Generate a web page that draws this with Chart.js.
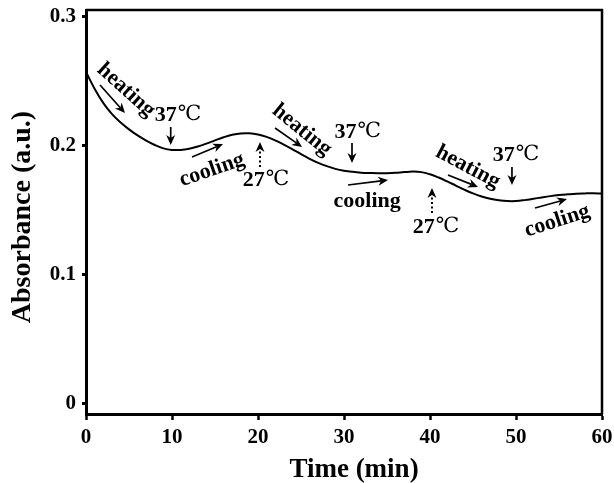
<!DOCTYPE html>
<html>
<head>
<meta charset="utf-8">
<script src="https://cdn.jsdelivr.net/npm/chart.js@4"></script>
<style>
  html, body { margin: 0; padding: 0; background: #fff; }
  #wrap { width: 614px; height: 483px; }
</style>
</head>
<body>
<div id="wrap"><canvas id="c" width="614" height="483"></canvas></div>
<script>
// ---- data ----
const timeMin = [0,1,2,3,4,5,6,7,8,9,10,11,12,13,14,15,16,17,18,19,20,21,22,23,24,25,26,27,28,29,30,31,32,33,34,35,36,37,38,39,40,41,42,43,44,45,46,47,48,49,50,51,52,53,54,55,56,57,58,59,60];
const absorbance = [0.257,0.244,0.233,0.2245,0.218,0.2125,0.2078,0.2038,0.2004,0.1978,0.1966,0.1966,0.1975,0.1992,0.2015,0.204,0.2064,0.2083,0.2094,0.2095,0.2086,0.2067,0.204,0.2007,0.1971,0.1933,0.1897,0.1866,0.184,0.1819,0.1805,0.1796,0.179,0.1787,0.1785,0.1786,0.1789,0.1794,0.1798,0.1794,0.1777,0.1752,0.1722,0.169,0.1658,0.1629,0.1605,0.1587,0.1576,0.157,0.157,0.1577,0.1587,0.1598,0.1608,0.1616,0.1622,0.1627,0.1629,0.163,0.1628];
const xTickValues = [0,10,20,30,40,50,60];
const yTickValues = [0,0.1,0.2,0.3];
const yTickLabels = ['0','0.1','0.2','0.3'];
const xTitle = 'Time (min)';
const yTitle = 'Absorbance (a.u.)';

// annotation texts anchored in data coordinates (time, absorbance), rotation in degrees
const labelTexts = [
  {text:'heating', t:4.65, v:0.243, rot:42},
  {text:'37', deg:true, t:10.7, v:0.2237, rot:0},
  {text:'cooling', t:14.65, v:0.181, rot:-19},
  {text:'27', deg:true, t:20.93, v:0.1733, rot:0},
  {text:'heating', t:25.1, v:0.212, rot:39},
  {text:'37', deg:true, t:31.6, v:0.2105, rot:0},
  {text:'cooling', t:32.7, v:0.157, rot:0},
  {text:'27', deg:true, t:40.7, v:0.1369, rot:0},
  {text:'heating', t:44.4, v:0.1833, rot:28},
  {text:'37', deg:true, t:50.0, v:0.1927, rot:0},
  {text:'cooling', t:54.8, v:0.1415, rot:-18}
];
// arrows in data coordinates: from (t1,v1) to (t2,v2)
const arrowDefs = [
  {t1:1.63, v1:0.2469, t2:4.53, v2:0.2252, dotted:false},
  {t1:9.85, v1:0.2144, t2:9.85, v2:0.2004, dotted:false},
  {t1:12.33, v1:0.1911, t2:15.93, v2:0.2011, dotted:false},
  {t1:20.23, v1:0.1834, t2:20.23, v2:0.2028, dotted:true},
  {t1:21.98, v1:0.2136, t2:25.12, v2:0.1989, dotted:false},
  {t1:30.93, v1:0.2020, t2:30.93, v2:0.1865, dotted:false},
  {t1:30.47, v1:0.1694, t2:35.12, v2:0.1733, dotted:false},
  {t1:40.23, v1:0.1477, t2:40.23, v2:0.1671, dotted:true},
  {t1:42.09, v1:0.1772, t2:45.58, v2:0.1679, dotted:false},
  {t1:49.53, v1:0.1834, t2:49.53, v2:0.1694, dotted:false},
  {t1:52.21, v1:0.1516, t2:55.93, v2:0.1585, dotted:false}
];

const SERIF = '"Liberation Serif", "Times New Roman", serif';

const framePlugin = {
  id: 'frame',
  afterDatasetsDraw(chart) {
    const {ctx, chartArea: a, scales: {x, y}} = chart;
    ctx.save();
    ctx.strokeStyle = '#000';
    ctx.lineWidth = 2.5;
    ctx.beginPath();
    ctx.moveTo(a.left, a.top);
    ctx.lineTo(a.right, a.top);
    ctx.lineTo(a.right, a.bottom);
    ctx.stroke();

    // arrows
    arrowDefs.forEach(d => {
      const x1 = x.getPixelForValue(d.t1), y1 = y.getPixelForValue(d.v1);
      const x2 = x.getPixelForValue(d.t2), y2 = y.getPixelForValue(d.v2);
      const ang = Math.atan2(y2 - y1, x2 - x1);
      const c = Math.cos(ang), s = Math.sin(ang);
      const hl = 10, hw = 4.5, notch = 3;
      const bx = x2 - hl * c, by = y2 - hl * s;
      const nx = bx + notch * c, ny = by + notch * s;
      ctx.beginPath();
      ctx.lineWidth = d.dotted ? 2 : 1.7;
      ctx.setLineDash(d.dotted ? [2, 2.5] : []);
      ctx.moveTo(x1, y1);
      ctx.lineTo(nx, ny);
      ctx.stroke();
      ctx.setLineDash([]);
      ctx.beginPath();
      ctx.moveTo(x2, y2);
      ctx.lineTo(bx + hw * s, by - hw * c);
      ctx.lineTo(nx, ny);
      ctx.lineTo(bx - hw * s, by + hw * c);
      ctx.closePath();
      ctx.fillStyle = '#000';
      ctx.fill();
    });

    // texts
    ctx.fillStyle = '#000';
    ctx.textBaseline = 'middle';
    labelTexts.forEach(l => {
      const px = x.getPixelForValue(l.t), py = y.getPixelForValue(l.v);
      ctx.save();
      ctx.translate(px, py);
      ctx.rotate(l.rot * Math.PI / 180);
      if (l.deg) {
        const f1 = 'bold 22px ' + SERIF;
        const f2 = 'normal 21px "DejaVu Serif", "Noto Sans CJK SC", serif';
        ctx.font = f1; const w1 = ctx.measureText(l.text).width;
        ctx.font = f2; const w2 = ctx.measureText('\u2103').width;
        const start = -(w1 + w2 + 1) / 2;
        ctx.textAlign = 'left';
        ctx.font = f1; ctx.fillText(l.text, start, 0);
        ctx.font = f2; ctx.fillText('\u2103', start + w1 + 1, 0);
      } else {
        ctx.font = 'bold 22px ' + SERIF;
        ctx.textAlign = 'center';
        ctx.fillText(l.text, 0, 0);
      }
      ctx.restore();
    });

    // axis titles
    ctx.font = 'bold 27px ' + SERIF;
    ctx.textAlign = 'center';
    ctx.textBaseline = 'middle';
    ctx.fillText(xTitle, (a.left + a.right) / 2 + 10, 470);
    ctx.save();
    ctx.translate(23, (a.top + a.bottom) / 2 + 5);
    ctx.rotate(-Math.PI / 2);
    ctx.font = 'bold 28px ' + SERIF;
    ctx.fillText(yTitle, 0, 0);
    ctx.restore();
    ctx.restore();
  }
};

new Chart(document.getElementById('c'), {
  type: 'line',
  data: {
    datasets: [{
      data: timeMin.map((t, i) => ({x: t, y: absorbance[i]})),
      borderColor: '#000',
      borderWidth: 2,
      pointRadius: 0,
      tension: 0.4,
      fill: false
    }]
  },
  options: {
    responsive: false,
    animation: false,
    layout: { padding: { top: 10, right: 12, left: 0, bottom: 0 } },
    plugins: { legend: { display: false }, tooltip: { enabled: false } },
    scales: {
      x: {
        type: 'linear',
        min: 0, max: 60,
        afterBuildTicks: s => { s.ticks = xTickValues.map(v => ({value: v})); },
        afterFit: s => { s.height = 69; s.paddingLeft = 0; s.paddingRight = 0; },
        ticks: {
          color: '#000',
          font: { family: SERIF, size: 21, weight: 'bold' },
          padding: 5,
          maxRotation: 0,
          callback: v => String(v)
        },
        grid: { drawOnChartArea: false, drawTicks: true, tickLength: 6, tickWidth: 2.5, tickColor: '#000' },
        border: { display: true, color: '#000', width: 3 },
        title: { display: false }
      },
      y: {
        type: 'linear',
        min: -0.008, max: 0.305,
        afterBuildTicks: s => { s.ticks = yTickValues.map(v => ({value: v})); },
        afterFit: s => { s.width = 86; s.paddingTop = 0; s.paddingBottom = 0; },
        ticks: {
          color: '#000',
          font: { family: SERIF, size: 21, weight: 'bold' },
          padding: 6,
          callback: (v, i) => yTickLabels[i]
        },
        grid: { drawOnChartArea: false, drawTicks: true, tickLength: 4, tickWidth: 3, tickColor: '#000' },
        border: { display: true, color: '#000', width: 3 },
        title: { display: false }
      }
    }
  },
  plugins: [framePlugin]
});
</script>
</body>
</html>
